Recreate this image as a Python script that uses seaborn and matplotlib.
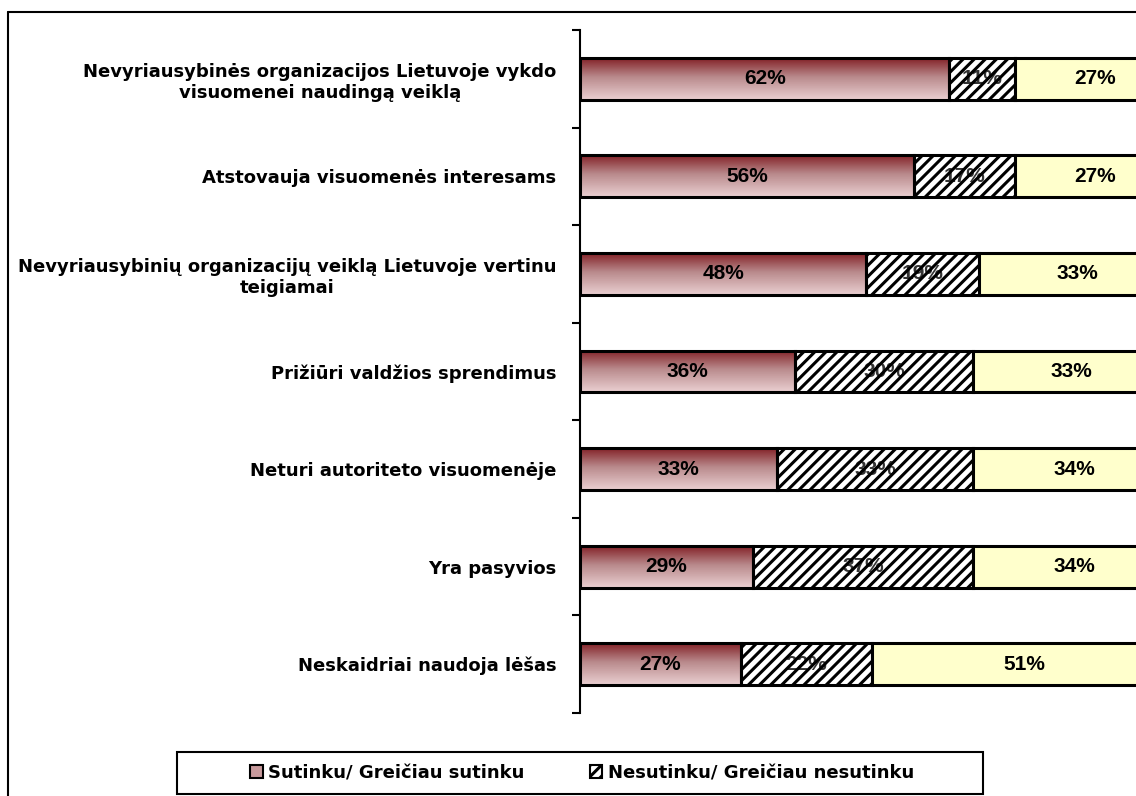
import numpy as np
import pandas as pd
import matplotlib
matplotlib.use('Agg')
import matplotlib.pyplot as plt
import seaborn as sns
from matplotlib.colors import LinearSegmentedColormap
from matplotlib.patches import Patch, Rectangle
from matplotlib.lines import Line2D

# duomenys
kategorijos = [
    "Nevyriausybinės organizacijos Lietuvoje vykdo\nvisuomenei naudingą veiklą",
    "Atstovauja visuomenės interesams",
    "Nevyriausybinių organizacijų veiklą Lietuvoje vertinu\nteigiamai",
    "Prižiūri valdžios sprendimus",
    "Neturi autoriteto visuomenėje",
    "Yra pasyvios",
    "Neskaidriai naudoja lėšas",
]
sutinku = [62, 56, 48, 36, 33, 29, 27]
nesutinku = [11, 17, 19, 30, 33, 37, 22]
nezinau = [27, 27, 33, 33, 34, 34, 51]
legendos_tekstai = ["Sutinku/ Greičiau sutinku", "Nesutinku/ Greičiau nesutinku"]

sns.set_style('ticks')
plt.rcParams['font.family'] = ['Liberation Sans', 'DejaVu Sans']
plt.rcParams['hatch.linewidth'] = 2.2
plt.rcParams['text.color'] = 'black'
plt.rcParams['ytick.color'] = 'black'
plt.rcParams['ytick.labelcolor'] = 'black'

df = pd.DataFrame({"kategorija": kategorijos, "sutinku": sutinku,
                   "nesutinku": nesutinku, "nezinau": nezinau})
left2 = np.array(sutinku)
left3 = left2 + np.array(nesutinku)

fig = plt.figure(figsize=(11.36, 7.96), dpi=100)
ax = fig.add_axes([580 / 1136, 83 / 796, 556 / 1136, 683 / 796])

bar_kw = dict(orient='h', errorbar=None, width=0.43, saturation=1,
              edgecolor='black', linewidth=2.2, ax=ax)
sns.barplot(data=df, x='sutinku', y='kategorija', color='#c89a9c', **bar_kw)
red_patches = list(ax.patches)
sns.barplot(data=df, x='nesutinku', y='kategorija', left=left2, color='white',
            hatch='///', **bar_kw)
hatch_patches = list(ax.patches)[len(red_patches):]
sns.barplot(data=df, x='nezinau', y='kategorija', left=left3, color='#ffffcc', **bar_kw)

# gradientas raudoniems stulpeliams
cmap = LinearSegmentedColormap.from_list(
    'raud', [(0, '#842329'), (0.45, '#b98a8c'), (1, '#eacfd1')])
grad = np.linspace(0, 1, 64).reshape(-1, 1)
for p in red_patches:
    x0, y0, w, h = p.get_x(), p.get_y(), p.get_width(), p.get_height()
    im = ax.imshow(grad, extent=(x0, x0 + w, y0 + h, y0), cmap=cmap,
                   aspect='auto', zorder=0.9, interpolation='bilinear')
    im.set_clip_path(p)
    p.set_facecolor('none')
for p in hatch_patches:
    p.set_facecolor('none')

# reikšmių etiketės
lbl_kw = dict(ha='center', va='center', fontsize=15, fontweight='bold')
for i in range(len(kategorijos)):
    ax.text(sutinku[i] / 2, i, f'{sutinku[i]}%', zorder=5, **lbl_kw)
    ax.text(left2[i] + nesutinku[i] / 2, i, f'{nesutinku[i]}%', color='#333333',
            zorder=0.5, **lbl_kw)
    ax.text(left3[i] + nezinau[i] / 2, i, f'{nezinau[i]}%', zorder=5, clip_on=True,
            **lbl_kw)

ax.set_xlim(0, 93.3)
ax.set_ylim(6.5, -0.5)
ax.set_xticks([])
ax.set_xlabel('')
ax.set_ylabel('')
ax.set_yticks(range(len(kategorijos)), labels=kategorijos)
ax.set_yticks(np.arange(-0.5, len(kategorijos), 1), minor=True)
ax.tick_params(axis='y', which='major', length=0, pad=17)
ax.tick_params(axis='y', which='minor', length=6, width=1.5, color='black')
for t in ax.get_yticklabels():
    t.set_multialignment('center')
    t.set_fontfamily('DejaVu Sans')
    t.set_fontweight('bold')
    t.set_fontsize(13)
sns.despine(ax=ax, top=True, right=True, bottom=True)
ax.spines['left'].set_linewidth(1.5)
ax.spines['left'].set_color('black')

# rėmelis aplink paveikslą
fig.add_artist(Line2D([8 / 1136, 8 / 1136], [0, 1 - 12 / 796], color='black',
                      lw=1.5, transform=fig.transFigure))
fig.add_artist(Line2D([8 / 1136, 1], [1 - 12 / 796, 1 - 12 / 796], color='black',
                      lw=1.5, transform=fig.transFigure))

# legenda
fig.add_artist(Rectangle((177 / 1136, 2 / 796), 806 / 1136, 42 / 796, fill=False,
                         lw=1.5, edgecolor='black', transform=fig.transFigure))
handles = [Patch(facecolor='#c89a9c', edgecolor='black', lw=1.5),
           Patch(facecolor='white', edgecolor='black', hatch='///', lw=1.5)]
fig.legend(handles, legendos_tekstai, loc='center', bbox_to_anchor=(582 / 1136, 23 / 796),
           ncol=2, frameon=False, handlelength=0.7, handleheight=0.7,
           handletextpad=0.3, columnspacing=3.6,
           prop={'family': 'DejaVu Sans', 'weight': 'bold', 'size': 13})

fig.savefig('out.png', dpi=100)
